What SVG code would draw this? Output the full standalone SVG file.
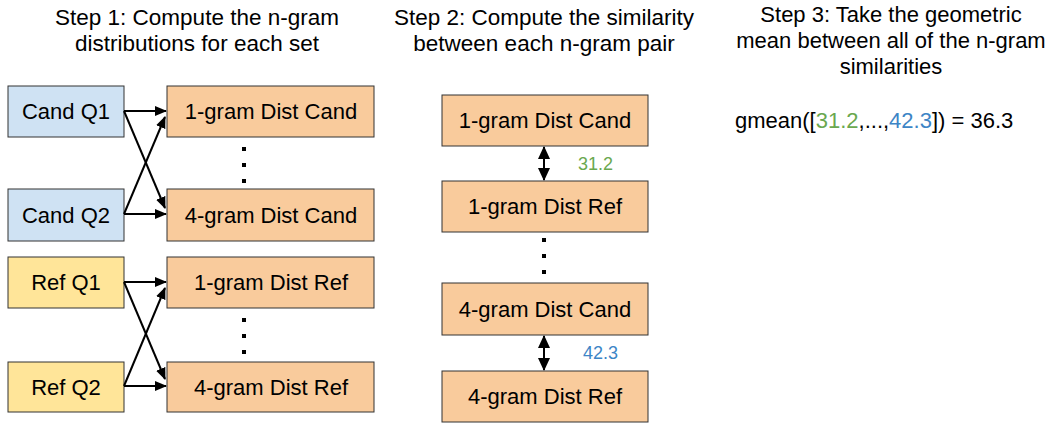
<svg xmlns="http://www.w3.org/2000/svg" width="1056" height="423" viewBox="0 0 1056 423">
<style>
text{font-family:"Liberation Sans",Arial,sans-serif;font-size:22px;fill:#000}
.c{text-anchor:middle}
.t{font-size:22.5px}
.box{stroke:#333;stroke-width:1}
.blue{fill:#cfe2f3}
.yel{fill:#ffe599}
.org{fill:#f9cb9c}
.ln{stroke:#000;stroke-width:2;fill:none}
.dot{fill:#000}
</style>
<defs>
<marker id="ah" markerWidth="12" markerHeight="10" refX="11" refY="5" orient="auto" markerUnits="userSpaceOnUse">
<path d="M0,0 L12,5 L0,10 Z" fill="#000"/>
</marker>
<marker id="ahs" markerWidth="12" markerHeight="10" refX="1" refY="5" orient="auto" markerUnits="userSpaceOnUse">
<path d="M12,0 L0,5 L12,10 Z" fill="#000"/>
</marker>
<marker id="dh" markerWidth="13" markerHeight="12" refX="12" refY="6" orient="auto" markerUnits="userSpaceOnUse">
<path d="M0,0 L13,6 L0,12 Z" fill="#000"/>
</marker>
<marker id="dhs" markerWidth="13" markerHeight="12" refX="1" refY="6" orient="auto" markerUnits="userSpaceOnUse">
<path d="M13,0 L0,6 L13,12 Z" fill="#000"/>
</marker>
</defs>
<rect width="1056" height="423" fill="#fff"/>

<g id="titles">
<text class="c t" x="197" y="25">Step 1: Compute the n-gram</text>
<text class="c t" x="197" y="51">distributions for each set</text>
<text class="c t" x="544" y="25">Step 2: Compute the similarity</text>
<text class="c t" x="544" y="51">between each n-gram pair</text>
<text class="c" x="891" y="22">Step 3: Take the geometric</text>
<text class="c" x="891" y="48">mean between all of the n-gram</text>
<text class="c" x="891" y="74">similarities</text>
</g>

<g id="cand-q1"><rect class="box blue" x="8" y="86" width="116" height="51"/><text class="c" x="66" y="119">Cand Q1</text></g>
<g id="cand-q2"><rect class="box blue" x="8" y="189" width="116" height="52"/><text class="c" x="66" y="223">Cand Q2</text></g>
<g id="ref-q1"><rect class="box yel" x="8" y="257" width="116" height="51"/><text class="c" x="66" y="290">Ref Q1</text></g>
<g id="ref-q2"><rect class="box yel" x="8" y="362" width="116" height="50"/><text class="c" x="66" y="395">Ref Q2</text></g>

<g id="c1-1gram-cand"><rect class="box org" x="167" y="86" width="207" height="51"/><text class="c" x="271" y="119">1-gram Dist Cand</text></g>
<g id="c1-4gram-cand"><rect class="box org" x="167" y="189" width="207" height="52"/><text class="c" x="271" y="223">4-gram Dist Cand</text></g>
<g id="c1-1gram-ref"><rect class="box org" x="167" y="257" width="207" height="51"/><text class="c" x="271" y="290">1-gram Dist Ref</text></g>
<g id="c1-4gram-ref"><rect class="box org" x="167" y="362" width="207" height="50"/><text class="c" x="271" y="395">4-gram Dist Ref</text></g>

<g id="c2-1gram-cand"><rect class="box org" x="442" y="95" width="206" height="51"/><text class="c" x="545" y="128">1-gram Dist Cand</text></g>
<g id="c2-1gram-ref"><rect class="box org" x="442" y="181" width="206" height="51"/><text class="c" x="545" y="214">1-gram Dist Ref</text></g>
<g id="c2-4gram-cand"><rect class="box org" x="442" y="283" width="206" height="52"/><text class="c" x="545" y="317">4-gram Dist Cand</text></g>
<g id="c2-4gram-ref"><rect class="box org" x="442" y="371" width="206" height="51"/><text class="c" x="545" y="404">4-gram Dist Ref</text></g>

<g id="ellipses">
<rect class="dot" x="242" y="147" width="4" height="4"/>
<rect class="dot" x="242" y="163" width="4" height="4"/>
<rect class="dot" x="242" y="179" width="4" height="4"/>
<rect class="dot" x="242" y="318" width="4" height="4"/>
<rect class="dot" x="242" y="334" width="4" height="4"/>
<rect class="dot" x="242" y="350" width="4" height="4"/>
<rect class="dot" x="542" y="238" width="4" height="4"/>
<rect class="dot" x="542" y="254" width="4" height="4"/>
<rect class="dot" x="542" y="270" width="4" height="4"/>
</g>

<g id="connectors">
<line class="ln" x1="124" y1="111" x2="166" y2="111" marker-end="url(#ah)"/>
<line class="ln" x1="124" y1="111" x2="165" y2="208" marker-end="url(#ah)"/>
<line class="ln" x1="124" y1="214" x2="165" y2="117" marker-end="url(#ah)"/>
<line class="ln" x1="124" y1="214" x2="166" y2="214" marker-end="url(#ah)"/>
<line class="ln" x1="124" y1="282" x2="166" y2="282" marker-end="url(#ah)"/>
<line class="ln" x1="124" y1="282" x2="165" y2="379" marker-end="url(#ah)"/>
<line class="ln" x1="124" y1="386" x2="165" y2="288" marker-end="url(#ah)"/>
<line class="ln" x1="124" y1="386" x2="166" y2="386" marker-end="url(#ah)"/>
<line class="ln" x1="544" y1="147" x2="544" y2="180" marker-start="url(#dhs)" marker-end="url(#dh)"/>
<line class="ln" x1="544" y1="336" x2="544" y2="370" marker-start="url(#dhs)" marker-end="url(#dh)"/>
</g>

<g id="labels">
<text x="578" y="170" style="font-size:18px;fill:#6aa84f">31.2</text>
<text x="583" y="359" style="font-size:18px;fill:#3d85c6">42.3</text>
<text x="735" y="128">gmean([<tspan fill="#6aa84f">31.2</tspan>,...,<tspan fill="#3d85c6">42.3</tspan>]) = 36.3</text>
</g>
</svg>
